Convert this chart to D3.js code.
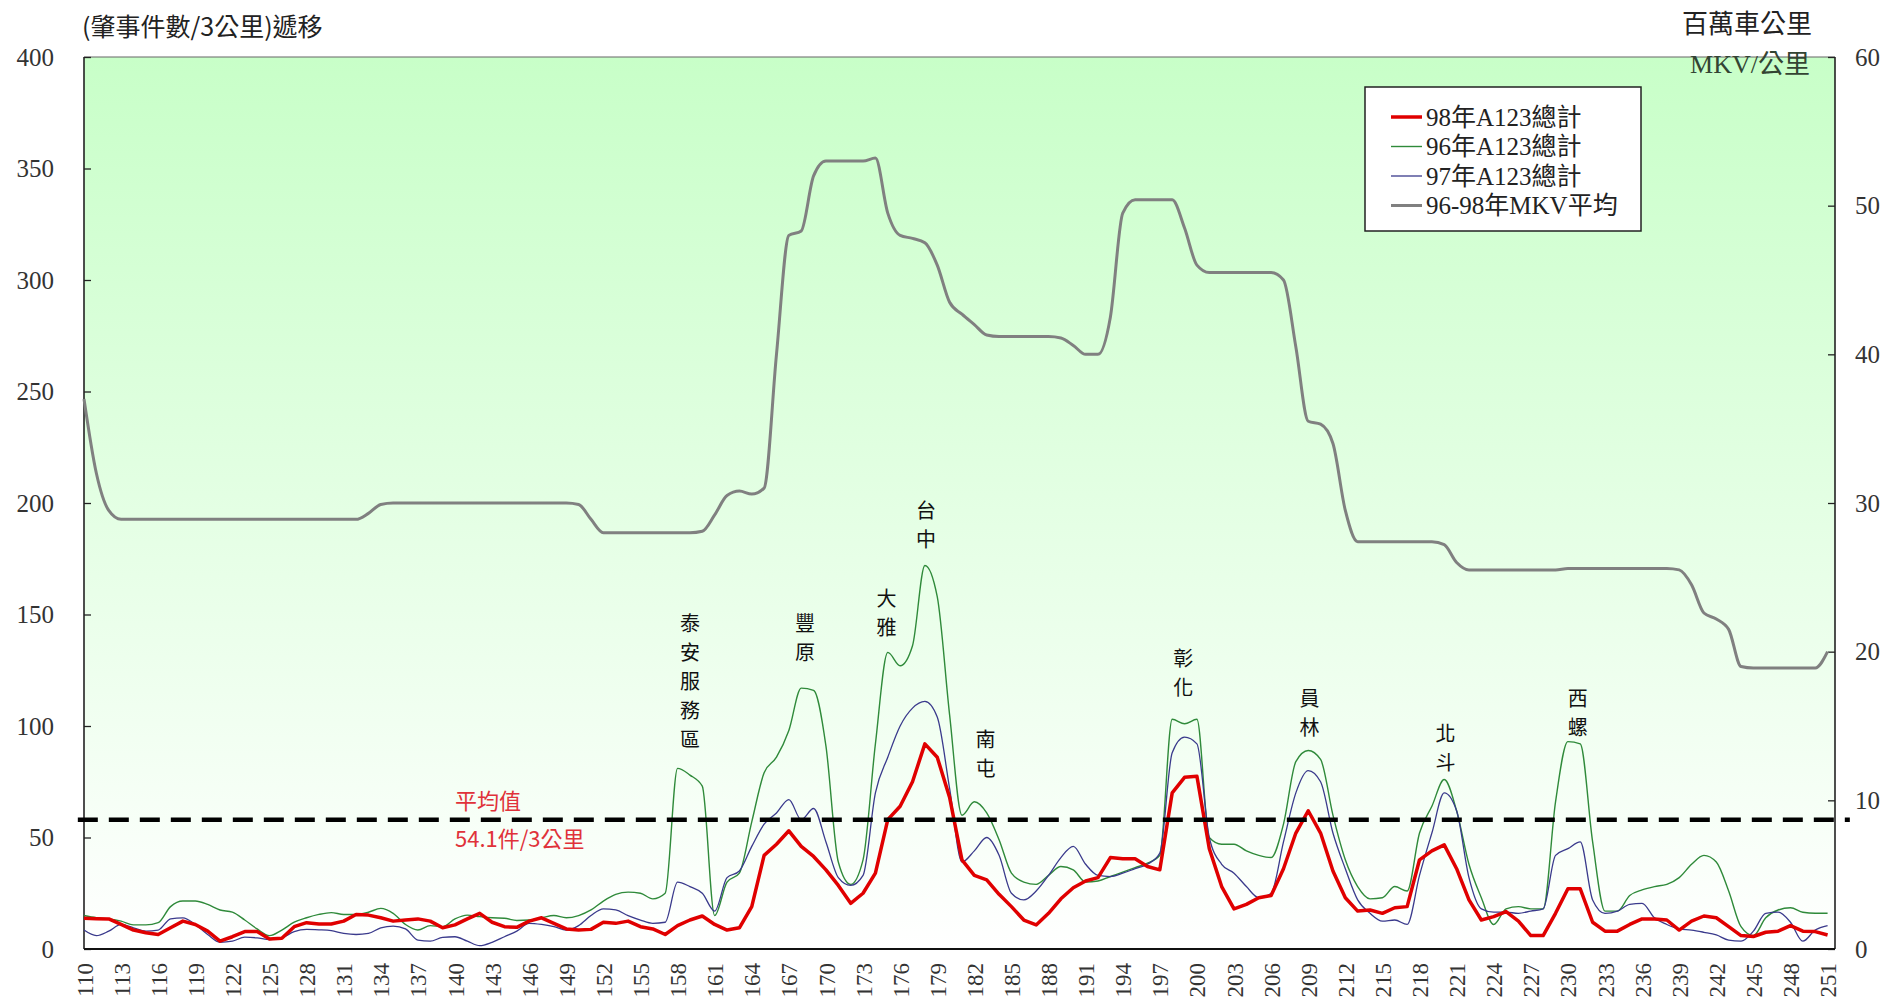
<!DOCTYPE html>
<html>
<head>
<meta charset="utf-8">
<script src="https://cdn.jsdelivr.net/npm/d3@7/dist/d3.min.js"></script>
<style>
  body { margin: 0; background: #fff; }
  svg text { font-family: "Liberation Serif", "Noto Sans CJK TC", serif; }
</style>
</head>
<body>
<div class="chart"></div>
<script>
// km posts, every kilometre from 110 to 251
var km = d3.range(110, 252);
var xTicks = d3.range(110, 252, 3);
var leftTicks = [0, 50, 100, 150, 200, 250, 300, 350, 400];
var rightTicks = [0, 10, 20, 30, 40, 50, 60];

// 98年A123總計
var a98 = [13.8,13.6,13.5,11,8.5,7.3,6.5,9.5,12.5,11,
  8,3.5,5.5,7.8,7.8,4.5,4.8,10,11.8,11.2,
  11.2,12.5,15.5,15.2,14,12.5,13,13.5,12.5,9.5,
  10.8,13.5,16,12,10,9.7,12.5,14,11.5,9,
  8.5,8.8,12,11.5,12.5,10,9,6.5,10.5,13,
  14.8,11,8.5,9.5,19,42,47,53,46,41.5,
  35.5,28.5,20.5,25,34,58,64,75,92,86,
  68,40,33,31,24.5,19,13,10.8,16,22.5,
  27.5,30.5,32,41,40.5,40.5,37,35.5,70,77,
  77.5,45,28,18,20,23,24,36,52,62,
  52,35,23,17,17.5,16,18.5,19,40,44,
  46.7,36,22,13,14.5,16.8,12.5,6,6,16,
  27,27,12,8,8,11,13.5,13.5,13,8.5,
  12.5,14.8,14,10,6,5.6,7.5,8,10.5,8,
  7.8,6.3];

// 96年A123總計
var a96 = [15,14,13.5,12.5,10.8,10.8,11.8,19,21.5,21.5,
  20,17.5,16.5,13,9,6,8.5,12,14,15.5,
  16.3,15.5,15.5,16.5,18.2,16,11,8.5,10.5,10,
  13.5,15.2,14.5,14,13.8,12.8,13,14,15,14,
  15,17.5,21.5,24.5,25.5,25,22.5,25,81,78,
  73,15,30,34,57,79,86,98,117,116,
  91,39,29,40,92,133,127,136,172,158,
  105,60,66,61,49,34,30,29,33,37,
  35.5,30,30.5,32.5,34.5,36.5,38.5,42,103,101,
  103,50,47,47,44,42,41,56,84,89,
  85,60,40,28,22.5,23,28,26,52,64,
  76,62,38,23,11,18,19,18,18,66,
  93,92,48,17,17,24,26.5,28,29,32,
  38,42,39,26,10,6,14,17.5,18.5,16.5,
  16,16];

// 97年A123總計
var a97 = [8.5,6,8,11,9.5,8,8.5,13.5,14,11,
  6.5,3,3.5,5.3,5,4.2,5,7.8,8.8,8.6,
  8.2,7,6.5,7,9.5,10.3,9,4,3.5,5.2,
  5.5,3.5,1.5,3,5.5,8,11.5,11,10,8.5,
  10.5,15,18,17.5,15,13,11.5,12,30,28,
  25,17,32,35,46,56,61,67,58,63,
  48,32,28.5,33,70,86,100,108,111,104,
  72,39,44,50,42,25,22,26,33,41,
  46,38,33,32.5,34,36,38,43,88,95,
  92,50,38,34,28,23,25,48,70,80,
  75,52,36,22,16,12.5,13,11,33,52,
  70,62,32,18,16.5,16.5,16,17,18,42,
  45,48,22,16,17,20,20.5,14,11,9,
  8.5,7.5,6.3,4,3.5,8,16,16.5,12,3.5,
  8.5,10.5];

// 96-98年MKV平均 (right axis)
var mkv = [37,32,29.5,28.9,28.9,28.9,28.9,28.9,28.9,28.9,
  28.9,28.9,28.9,28.9,28.9,28.9,28.9,28.9,28.9,28.9,
  28.9,28.9,28.9,29.3,29.9,30,30,30,30,30,
  30,30,30,30,30,30,30,30,30,30,
  29.9,28.9,28,28,28,28,28,28,28,28,
  28.1,29.2,30.5,30.8,30.6,31,40,48,48.3,52,
  53,53,53,53,53.2,49.5,48,47.8,47.5,46,
  43.5,42.7,42,41.3,41.2,41.2,41.2,41.2,41.2,41.1,
  40.6,40,40,42.5,49.5,50.4,50.4,50.4,50.4,48.5,
  46,45.5,45.5,45.5,45.5,45.5,45.5,45,40.5,35.5,
  35.3,34,29.5,27.4,27.4,27.4,27.4,27.4,27.4,27.4,
  27.2,26,25.5,25.5,25.5,25.5,25.5,25.5,25.5,25.5,
  25.6,25.6,25.6,25.6,25.6,25.6,25.6,25.6,25.6,25.5,
  24.5,22.6,22.2,21.5,19,18.9,18.9,18.9,18.9,18.9,
  18.9,20];

var seriesNames = ["98年A123總計", "96年A123總計", "97年A123總計", "96-98年MKV平均"];

// average line and its note
var avgLine = { from: 109.5, to: 252.8, value: 58 };
var avgText = [{ km: 140, value: 67.3, text: "平均值" }, { km: 140, value: 50.2, text: "54.1件/3公里" }];

// interchange names written down the peaks (km, left-axis value of first char)
var peakNames = ["泰安服務區", "豐原", "大雅", "台中", "南屯", "彰化", "員林", "北斗", "西螺"];
var peakKm = [159, 168.3, 174.9, 178.1, 182.9, 198.9, 209.1, 220.1, 230.8];
var peakVal = [146.2, 146.2, 157.4, 196.9, 94.6, 130.9, 112.6, 96.9, 113];

var width = 1889,
    height = 1006;
var plotLeft = 84, plotRight = 1835, plotTop = 57, plotBottom = 949;

var x = d3.scaleLinear().domain([110, 251.6]).range([plotLeft, plotRight]);
var yL = d3.scaleLinear().domain([0, 400]).range([plotBottom, plotTop]);
var yR = d3.scaleLinear().domain([0, 60]).range([plotBottom, plotTop]);

var svg = d3.select(".chart").append("svg")
    .attr("width", width)
    .attr("height", height);

var grad = svg.append("defs").append("linearGradient")
    .attr("id", "bg")
    .attr("x1", 0).attr("y1", 0).attr("x2", 0).attr("y2", 1);
grad.append("stop").attr("offset", "0%").attr("stop-color", "#c8ffc8");
grad.append("stop").attr("offset", "100%").attr("stop-color", "#ffffff");

svg.append("rect")
    .attr("x", plotLeft).attr("y", plotTop)
    .attr("width", plotRight - plotLeft).attr("height", plotBottom - plotTop)
    .attr("fill", "url(#bg)");

// top border
svg.append("line")
    .attr("x1", plotLeft).attr("x2", plotRight)
    .attr("y1", plotTop).attr("y2", plotTop)
    .attr("stroke", "#666").attr("stroke-width", 1.2);

// axes
var gl = svg.append("g")
    .attr("transform", "translate(" + plotLeft + ",0)")
    .call(d3.axisLeft(yL).tickValues(leftTicks).tickSize(-7).tickPadding(30));
var gr = svg.append("g")
    .attr("transform", "translate(" + plotRight + ",0)")
    .call(d3.axisRight(yR).tickValues(rightTicks).tickSize(-7).tickPadding(20));
var gx = svg.append("g")
    .attr("transform", "translate(0," + plotBottom + ")")
    .call(d3.axisBottom(x).tickValues(xTicks).tickSize(0).tickFormat(d3.format("d")));

[gl, gr, gx].forEach(function(g){
  g.select(".domain").remove();
  g.selectAll(".tick line").attr("stroke", "#222").attr("stroke-width", 1.3);
  g.selectAll("text")
      .attr("fill", "#333")
      .style("font-family", "Liberation Serif")
      .style("font-size", "25px");
});

gx.selectAll("text")
    .attr("transform", "rotate(-90)")
    .attr("text-anchor", "end")
    .attr("x", -14)
    .attr("y", 0)
    .attr("dy", "0.35em")
    .style("font-size", "23px");

svg.append("line")
    .attr("x1", plotLeft).attr("x2", plotLeft)
    .attr("y1", plotTop).attr("y2", plotBottom)
    .attr("stroke", "#222").attr("stroke-width", 1.6);
svg.append("line")
    .attr("x1", plotRight).attr("x2", plotRight)
    .attr("y1", plotTop).attr("y2", plotBottom)
    .attr("stroke", "#222").attr("stroke-width", 1.6);
svg.append("line")
    .attr("x1", plotLeft).attr("x2", plotRight)
    .attr("y1", plotBottom).attr("y2", plotBottom)
    .attr("stroke", "#111").attr("stroke-width", 2.2);

// axis titles
svg.append("text")
    .attr("x", 82).attr("y", 36)
    .style("font-family", "Noto Sans CJK TC")
    .style("font-size", "25px")
    .attr("fill", "#222")
    .text("(肇事件數/3公里)遞移");
svg.append("text")
    .attr("x", 1812).attr("y", 33)
    .attr("text-anchor", "end")
    .style("font-family", "Noto Sans CJK TC")
    .style("font-size", "26px")
    .attr("fill", "#222")
    .text("百萬車公里");
svg.append("text")
    .attr("x", 1810).attr("y", 73)
    .attr("text-anchor", "end")
    .style("font-size", "26px")
    .attr("fill", "#334433")
    .text("MKV/公里");

// lines
var lineL = function(curve){
  return d3.line()
      .x(function(d, i){ return x(km[i]); })
      .y(function(d){ return yL(d); })
      .curve(curve);
};
var lineR = d3.line()
    .x(function(d, i){ return x(km[i]); })
    .y(function(d){ return yR(d); })
    .curve(d3.curveMonotoneX);

svg.append("path")
    .datum(mkv)
    .attr("d", lineR)
    .attr("fill", "none")
    .attr("stroke", "#808080")
    .attr("stroke-width", 3);

svg.append("path")
    .datum(a96)
    .attr("d", lineL(d3.curveMonotoneX))
    .attr("fill", "none")
    .attr("stroke", "#2f8a3a")
    .attr("stroke-width", 1.4);

svg.append("path")
    .datum(a97)
    .attr("d", lineL(d3.curveMonotoneX))
    .attr("fill", "none")
    .attr("stroke", "#3a3a8c")
    .attr("stroke-width", 1.3);

svg.append("path")
    .datum(a98)
    .attr("d", lineL(d3.curveLinear))
    .attr("fill", "none")
    .attr("stroke", "#e00000")
    .attr("stroke-width", 3.5)
    .attr("stroke-linejoin", "round");

// average
svg.append("line")
    .attr("x1", x(avgLine.from)).attr("x2", x(avgLine.to))
    .attr("y1", yL(avgLine.value)).attr("y2", yL(avgLine.value))
    .attr("stroke", "#000")
    .attr("stroke-width", 4.5)
    .attr("stroke-dasharray", "20,11");

svg.selectAll(".avgtext")
    .data(avgText)
    .enter()
    .append("text")
    .attr("class", "avgtext")
    .attr("x", function(d){ return x(d.km); })
    .attr("y", function(d){ return yL(d.value); })
    .attr("dominant-baseline", "central")
    .style("font-family", "Noto Sans CJK TC")
    .style("font-size", "22px")
    .attr("fill", "#e0323a")
    .text(function(d){ return d.text; });

// peak names, one character per line
peakNames.forEach(function(name, i){
  var t = svg.append("text")
      .attr("text-anchor", "middle")
      .style("font-family", "Noto Sans CJK TC")
      .style("font-size", "20px")
      .attr("fill", "#111");
  name.split("").forEach(function(ch, j){
    t.append("tspan")
        .attr("x", x(peakKm[i]))
        .attr("y", yL(peakVal[i]) + j * 29)
        .attr("dominant-baseline", "central")
        .text(ch);
  });
});

// legend
var legend = svg.append("g").attr("transform", "translate(1365,87)");
legend.append("rect")
    .attr("width", 276).attr("height", 144)
    .attr("fill", "#fff")
    .attr("stroke", "#222").attr("stroke-width", 1.5);
var legColors = ["#e00000", "#2f8a3a", "#3a3a8c", "#808080"];
var legWidths = [3.5, 1.4, 1.3, 3];
seriesNames.forEach(function(name, i){
  var yy = 30 + i * 29.5;
  legend.append("line")
      .attr("x1", 26).attr("x2", 57)
      .attr("y1", yy).attr("y2", yy)
      .attr("stroke", legColors[i])
      .attr("stroke-width", legWidths[i]);
  legend.append("text")
      .attr("x", 61).attr("y", yy)
      .attr("dominant-baseline", "central")
      .style("font-size", "25px")
      .attr("fill", "#222")
      .text(name);
});
</script>
</body>
</html>
